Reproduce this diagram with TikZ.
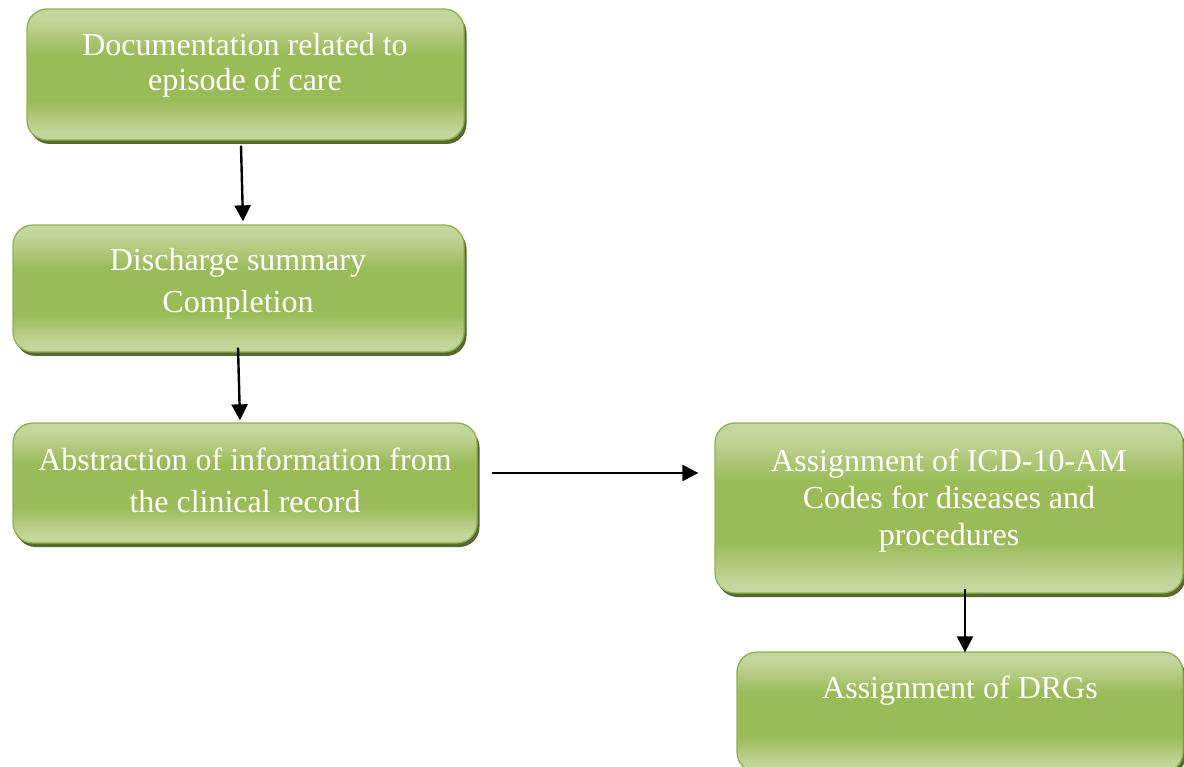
\documentclass[tikz,border=0pt]{standalone}
\usepackage{fontspec}
\setmainfont{Liberation Serif}
\usetikzlibrary{arrows.meta,shadows}
\definecolor{gl}{HTML}{C3D69B}
\definecolor{gm}{HTML}{9BBB59}
\definecolor{gb}{HTML}{8DB251}
\definecolor{gs}{HTML}{56692E}
\pgfdeclareverticalshading{greenbox}{100bp}{color(0bp)=(gl); color(28bp)=(gl); color(40bp)=(gm); color(58bp)=(gm); color(71bp)=(gl); color(100bp)=(gl)}
\tikzset{
  box/.style={rectangle, rounded corners=20pt, draw=gb, line width=1.3pt,
    shading=greenbox, inner sep=0pt,
    drop shadow={shadow xshift=2.5pt, shadow yshift=-4pt, fill=gs, opacity=1}},
  txt/.style={text=white, align=center, inner sep=0pt},
  arr/.style={-{Triangle[length=16pt,width=16pt]}, line width=2.4pt, draw=black}
}
\begin{document}
\begin{tikzpicture}[x=1pt,y=1pt]
\useasboundingbox (0,0) rectangle (1184,-767);
\node[box, minimum width=437pt, minimum height=131pt] (b1) at (245.5,-74.5) {};
\node[box, minimum width=451pt, minimum height=127pt] (b2) at (238.5,-288.5) {};
\node[box, minimum width=464pt, minimum height=120pt] (b3) at (245,-483) {};
\node[box, minimum width=468pt, minimum height=170pt] (b4) at (949,-508) {};
\node[box, minimum width=446pt, minimum height=120pt] (b5) at (960,-712) {};
\node[txt, font=\fontsize{32}{35}\selectfont] (t1) at (245,-65) {Documentation related to\\episode of care};
\node[txt, font=\fontsize{32}{42}\selectfont] (t2) at (238,-284) {Discharge summary\\Completion};
\node[txt, font=\fontsize{32}{42}\selectfont] (t3) at (245,-480) {Abstraction of information from\\the clinical record};
\node[txt, font=\fontsize{32}{37}\selectfont] (t4) at (949,-501) {Assignment of ICD-10-AM\\Codes for diseases and\\procedures};
\node[txt, font=\fontsize{32}{37}\selectfont] (t5) at (960,-691) {Assignment of DRGs};
\draw[arr] ([shift={(-4.5,-5)}]b1.south) -- ([shift={(4.5,3)}]b2.north);
\draw[arr] ([shift={(-0.5,5)}]b2.south) -- ([shift={(-5,2)}]b3.north);
\draw[arr] ([shift={(14,10)}]b3.east) -- ([shift={(-16,35)}]b4.west);
\draw[arr] ([shift={(16,5)}]b4.south) -- ([shift={(5,-1)}]b5.north);
\end{tikzpicture}
\end{document}
